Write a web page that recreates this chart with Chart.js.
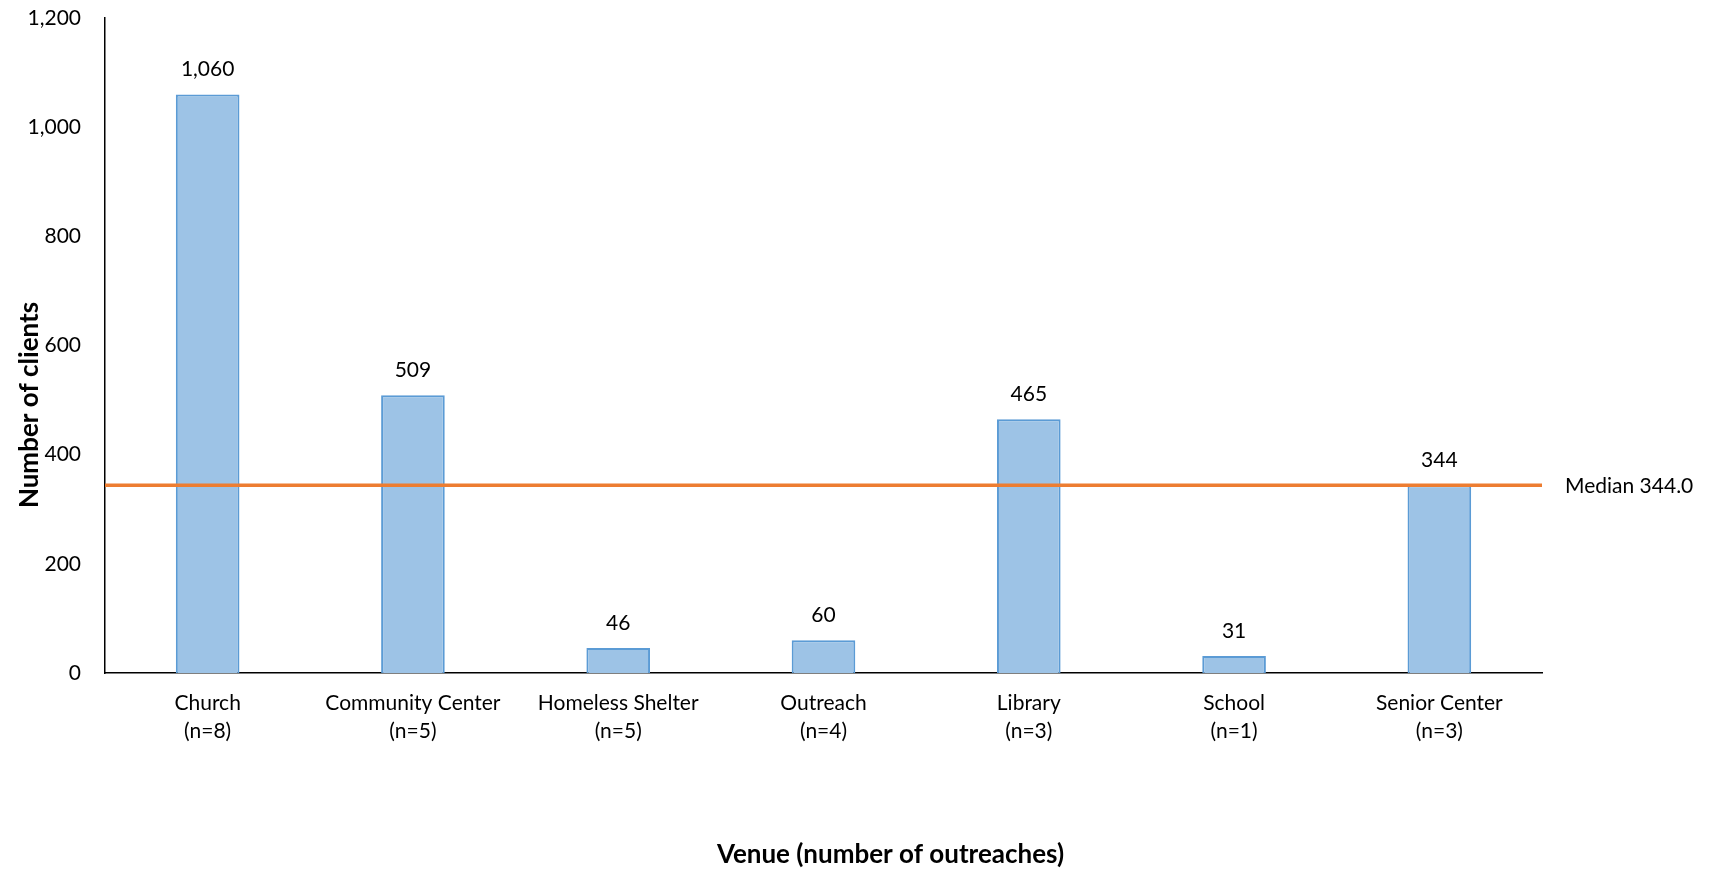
<!DOCTYPE html>
<html>
<head>
<meta charset="utf-8">
<title>Clients by venue</title>
<script src="https://cdn.jsdelivr.net/npm/chart.js@4/dist/chart.umd.min.js"></script>
<style>
    html, body { margin: 0; padding: 0; background: #fff; }
    #wrap { width: 1712px; height: 870px; }
</style>
</head>
<body>
<div id="wrap"><canvas id="venueChart" width="1712" height="870"></canvas></div>
<script>
var venues = ['Church', 'Community Center', 'Homeless Shelter', 'Outreach', 'Library', 'School', 'Senior Center'];
var outreaches = [8, 5, 5, 4, 3, 1, 3];
var clients = [1060, 509, 46, 60, 465, 31, 344];
var median = 344.0;
var yTicks = [0, 200, 400, 600, 800, 1000, 1200];

var fontName = 'Lato, "Open Sans", sans-serif';

var labels = venues.map(function(v, i) {
    return [v, '(n=' + outreaches[i] + ')'];
});

function fmt(n) {
    return n.toLocaleString('en-US');
}

// value labels above bars + median line and its label
var extrasPlugin = {
    id: 'extras',
    afterDatasetsDraw: function(chart) {
        var ctx = chart.ctx;
        var area = chart.chartArea;
        var y = chart.scales.y;

        ctx.save();
        ctx.font = '21px ' + fontName;
        ctx.fillStyle = '#000';
        ctx.textAlign = 'center';
        ctx.textBaseline = 'middle';
        chart.getDatasetMeta(0).data.forEach(function(bar, i) {
            ctx.fillText(fmt(clients[i]), bar.x, bar.y - 25);
        });

        var my = y.getPixelForValue(median);
        ctx.strokeStyle = '#ED7D31';
        ctx.lineWidth = 3.5;
        ctx.beginPath();
        ctx.moveTo(area.left, my);
        ctx.lineTo(area.right, my);
        ctx.stroke();

        ctx.textAlign = 'left';
        ctx.fillText('Median ' + median.toFixed(1), area.right + 23, my + 1);

        // axis titles
        ctx.font = 'bold 26px ' + fontName;
        ctx.textAlign = 'center';
        ctx.fillText('Venue (number of outreaches)', area.left + (area.right - area.left) / 2 + 67, 855);
        ctx.translate(30, 405);
        ctx.rotate(-Math.PI / 2);
        ctx.fillText('Number of clients', 0, 0);
        ctx.restore();
    }
};

var ctx = document.getElementById('venueChart').getContext('2d');
var venueChart = new Chart(ctx, {
    type: 'bar',
    data: {
        labels: labels,
        datasets: [{
            label: 'Number of clients',
            data: clients,
            backgroundColor: '#9DC3E6',
            borderColor: '#5B9BD5',
            borderWidth: 2,
            borderSkipped: 'bottom',
            categoryPercentage: 1.0,
            barPercentage: 0.31
        }]
    },
    options: {
        responsive: false,
        animation: false,
        layout: {
            padding: { top: 18, right: 170, bottom: 0, left: 0 }
        },
        plugins: {
            legend: { display: false },
            tooltip: { enabled: false }
        },
        scales: {
            x: {
                grid: { display: false, drawTicks: false },
                border: { color: '#000', width: 1.5 },
                ticks: {
                    color: '#000',
                    font: { family: fontName, size: 21, lineHeight: 1.33 },
                    padding: 16,
                    maxRotation: 0,
                    autoSkip: false
                },
                afterFit: function(scale) {
                    scale.height = 197;
                    scale.paddingLeft = 0;
                    scale.paddingRight = 0;
                }
            },
            y: {
                min: 0,
                max: 1200,
                grid: { display: false, drawTicks: false },
                border: { color: '#000', width: 1.5 },
                afterBuildTicks: function(scale) {
                    scale.ticks = yTicks.map(function(v) { return { value: v }; });
                },
                ticks: {
                    color: '#000',
                    font: { family: fontName, size: 21 },
                    padding: 24,
                    callback: function(v) { return fmt(v); }
                },
                afterFit: function(scale) {
                    scale.width = 105;
                    scale.paddingTop = 0;
                    scale.paddingBottom = 0;
                }
            }
        }
    },
    plugins: [extrasPlugin]
});
</script>
</body>
</html>
